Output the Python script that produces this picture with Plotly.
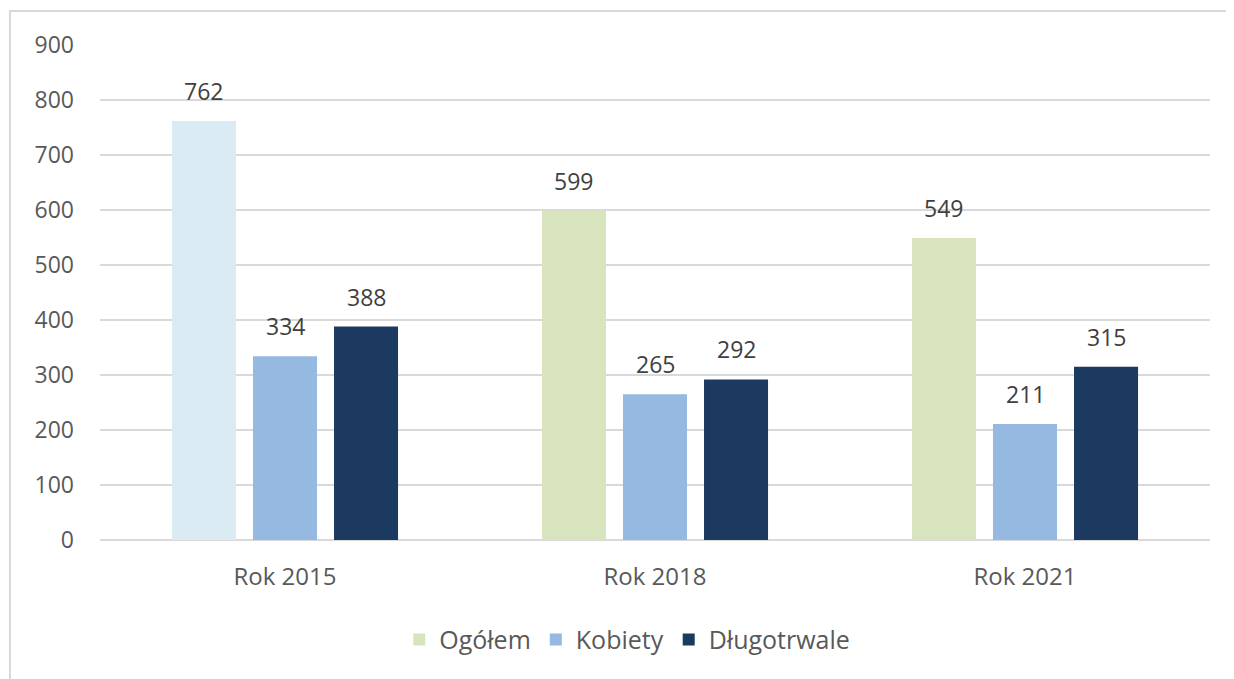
import plotly.graph_objects as go

categories = ["Rok 2015", "Rok 2018", "Rok 2021"]
ogolem = [762, 599, 549]
kobiety = [334, 265, 211]
dlugotrwale = [388, 292, 315]
tick_vals = [0, 100, 200, 300, 400, 500, 600, 700, 800, 900]

GREEN = "#d7e4bd"
LIGHTBLUE = "#daebf4"
MIDBLUE = "#95b9e1"
NAVY = "#1c3a60"
FONT = "Open Sans"
TXT = "#595959"
FS = 23

W, H = 1226, 671
ML, MR, MT, MB = 92, 24, 37, 139
BARGAP, GROUPGAP = 0.343, 0.21

# Reorder Ogółem so the legend swatch takes the green colour of a 2018/2021 point
order = [1, 2, 0]
og_colors = [LIGHTBLUE, GREEN, GREEN]

series = [("Ogółem", ogolem), ("Kobiety", kobiety), ("Długotrwale", dlugotrwale)]

fig = go.Figure()
fig.add_trace(go.Bar(
    name="Ogółem",
    x=[categories[i] for i in order],
    y=[ogolem[i] for i in order],
    marker=dict(color=[og_colors[i] for i in order], line=dict(width=0)),
))
fig.add_trace(go.Bar(name="Kobiety", x=categories, y=kobiety,
                     marker=dict(color=MIDBLUE, line=dict(width=0))))
fig.add_trace(go.Bar(name="Długotrwale", x=categories, y=dlugotrwale,
                     marker=dict(color=NAVY, line=dict(width=0))))
fig.update_traces(hoverinfo="skip")

# value labels above bars, offset by the group slot width
plot_w = W - ML - MR
slot = plot_w / len(categories) * (1 - BARGAP) / len(series)
annotations = []
for k, (_, vals) in enumerate(series):
    for cat, v in zip(categories, vals):
        annotations.append(dict(
            x=cat, y=v, xref="x", yref="y", text=str(v), showarrow=False,
            xanchor="center", yanchor="bottom", xshift=(k - 1) * slot, yshift=12,
            font=dict(family=FONT, size=FS, color="#404040")))

fig.update_layout(
    width=W, height=H,
    margin=dict(l=ML, r=MR, t=MT, b=MB),
    paper_bgcolor="white", plot_bgcolor="white",
    barmode="group", bargap=BARGAP, bargroupgap=GROUPGAP,
    font=dict(family=FONT, size=FS, color=TXT),
    xaxis=dict(type="category", categoryorder="array", categoryarray=categories,
               showgrid=False, showline=False, ticks="", ticklabelstandoff=20,
               tickfont=dict(family=FONT, size=24, color=TXT)),
    yaxis=dict(range=[0, 900], tickvals=tick_vals, showgrid=True,
               gridcolor="#d9d9d9", gridwidth=1.5, zeroline=True,
               zerolinecolor="#d9d9d9", zerolinewidth=1.5, showline=False,
               ticks="", ticklabelstandoff=25,
               tickfont=dict(family=FONT, size=FS, color=TXT)),
    showlegend=True,
    legend=dict(orientation="h", x=0.475, xanchor="center", y=-0.155, yanchor="top",
                font=dict(family=FONT, size=25, color=TXT),
                traceorder="normal", itemwidth=30),
    annotations=annotations,
    shapes=[dict(type="rect", xref="paper", yref="paper",
                 x0=-0.0811, x1=1.03, y0=-0.32, y1=1.0687,
                 line=dict(color="#d9d9d9", width=2), fillcolor="rgba(0,0,0,0)",
                 layer="below")],
)

fig.write_html("out.html")
